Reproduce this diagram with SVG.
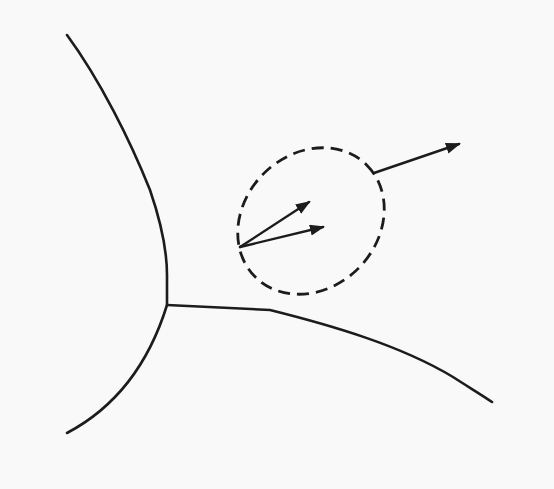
<svg xmlns="http://www.w3.org/2000/svg" width="554" height="489" viewBox="0 0 554 489">
<style>
.curve{fill:none;stroke:#1c1c1c;stroke-width:2.6;stroke-linecap:round;stroke-linejoin:round}
.arrow{fill:none;stroke:#1c1c1c;stroke-width:2.4;stroke-linecap:round}
.dash{fill:none;stroke:#1c1c1c;stroke-width:2.8;stroke-dasharray:12 7}
</style>
<defs>
<marker id="ah" markerUnits="userSpaceOnUse" markerWidth="16" markerHeight="12" refX="13" refY="5.5" orient="auto">
<path d="M0,0 L15,5.5 L0,11 Z" fill="#1c1c1c"/>
</marker>
</defs>
<rect width="554" height="489" fill="#f9f9f9"/>
<g id="boundaries">
<path class="curve" d="M67,35 C100,80 130,140 150,190 C162,225 167,250 167,275 L167,305 C150,360 120,405 67,433"/>
<path class="curve" d="M167,305 L270,310 C330,325 400,345 453,377 C470,388 482,395 492,402"/>
</g>
<g id="region">
<ellipse class="dash" cx="311" cy="221" rx="79" ry="67" transform="rotate(-45 311 221)"/>
</g>
<g id="connectors">
<line class="arrow" x1="240" y1="247" x2="309" y2="202" marker-end="url(#ah)"/>
<line class="arrow" x1="240" y1="247" x2="323" y2="227" marker-end="url(#ah)"/>
<line class="arrow" x1="374" y1="173" x2="459" y2="144" marker-end="url(#ah)"/>
</g>
</svg>
